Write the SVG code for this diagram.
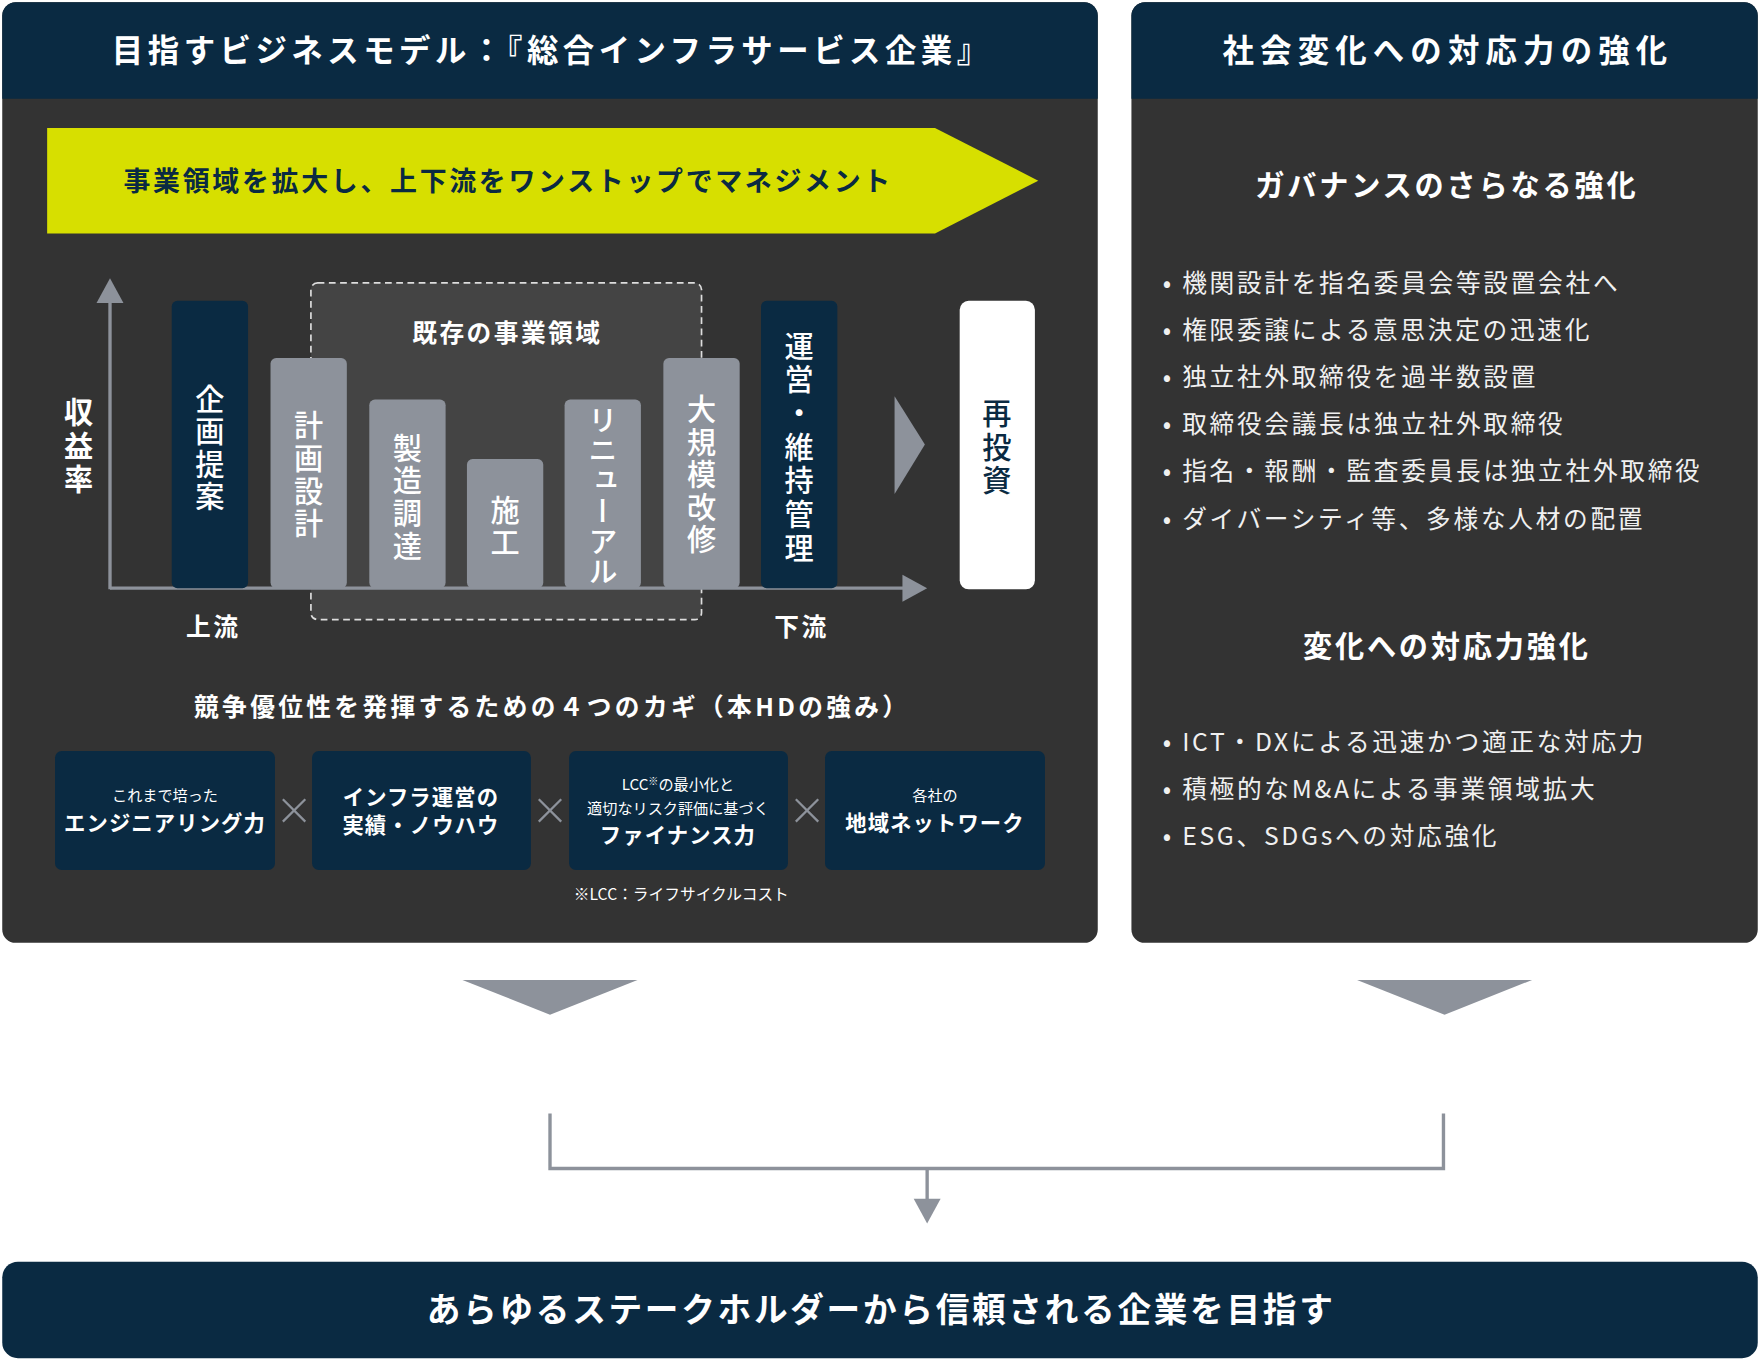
<svg xmlns="http://www.w3.org/2000/svg" width="1760" height="1360" viewBox="0 0 1760 1360">
<defs>
<style>
text{font-family:"Noto Sans CJK JP","Noto Sans",sans-serif;}
.navy{fill:#0a2a42}
.panel{fill:#333333}
.gray{fill:#8d929b}
.wb{fill:#fff;font-weight:700;letter-spacing:0.1em}
.vt{writing-mode:vertical-rl;text-anchor:middle;font-size:26px;font-weight:500;letter-spacing:3px}
.bl{fill:#f0f0f0;font-size:22px;letter-spacing:2.4px}
.kb{fill:#fff;font-weight:700;font-size:19px;text-anchor:middle;letter-spacing:1px}
.ks{fill:#fff;font-size:13.5px;text-anchor:middle}
.x{stroke:#8d929b;stroke-width:2}
</style>
</defs>
<rect width="1760" height="1360" fill="#fff"/>
<g transform="scale(1.12245)">
<g id="left-panel">
<rect x="2" y="2" width="976" height="838" rx="12" class="panel"/>
<path d="M14,2 H966 A12,12 0 0 1 978,14 V88 H2 V14 A12,12 0 0 1 14,2z" class="navy"/>
<text x="492" y="55" class="wb" font-size="28" text-anchor="middle" style="letter-spacing:4px">目指すビジネスモデル：『総合インフラサービス企業』</text>
</g>
<g id="right-panel">
<rect x="1008" y="2" width="558" height="838" rx="12" class="panel"/>
<path d="M1020,2 H1554 A12,12 0 0 1 1566,14 V88 H1008 V14 A12,12 0 0 1 1020,2z" class="navy"/>
<text x="1290" y="55" class="wb" font-size="28" text-anchor="middle" style="letter-spacing:5.5px">社会変化への対応力の強化</text>
</g>
<g id="banner-arrow">
<polygon points="42,114 833,114 925,161 833,208 42,208" fill="#d7df00"/>
<text x="110" y="170" font-size="24" font-weight="700" fill="#0a2a42" letter-spacing="2.4">事業領域を拡大し、上下流をワンストップでマネジメント</text>
</g>
<g id="existing-domain">
<rect x="277" y="252" width="348" height="300" rx="6" fill="#444" stroke="#ddd" stroke-width="1.5" stroke-dasharray="6 4"/>
<text x="452" y="305" class="wb" font-size="22" text-anchor="middle">既存の事業領域</text>
</g>
<g id="axes">
<line x1="98" y1="525" x2="98" y2="262" stroke="#8d929b" stroke-width="3"/>
<polygon points="86,270 98,248 110,270" class="gray"/>
<line x1="98" y1="524" x2="808" y2="524" stroke="#8d929b" stroke-width="3"/>
<polygon points="804,512 826,524 804,536" class="gray"/>
<text x="70" y="399" class="vt wb" style="font-weight:700;letter-spacing:4px">収益率</text>
<text x="190" y="567" class="wb" font-size="22" text-anchor="middle">上流</text>
<text x="714" y="567" class="wb" font-size="22" text-anchor="middle">下流</text>
</g>
<g id="bar-kikaku"><rect x="153" y="268" width="68" height="256" rx="5" class="navy"/><text x="187" y="400" class="vt" fill="#fff">企画提案</text></g>
<g id="bar-keikaku"><rect x="241" y="319" width="68" height="205" rx="5" class="gray"/><text x="275" y="424" class="vt" fill="#fff">計画設計</text></g>
<g id="bar-seizo"><rect x="329" y="356" width="68" height="168" rx="5" class="gray"/><text x="363" y="444" class="vt" fill="#fff">製造調達</text></g>
<g id="bar-seko"><rect x="416" y="409" width="68" height="115" rx="5" class="gray"/><text x="450" y="470" class="vt" fill="#fff">施工</text></g>
<g id="bar-renewal"><rect x="503" y="356" width="68" height="168" rx="5" class="gray"/><text x="537" y="442" class="vt" fill="#fff" style="letter-spacing:1px">リニューアル</text></g>
<g id="bar-daikibo"><rect x="591" y="319" width="68" height="205" rx="5" class="gray"/><text x="625" y="424" class="vt" fill="#fff">大規模改修</text></g>
<g id="bar-unei"><rect x="678" y="268" width="68" height="256" rx="5" class="navy"/><text x="712" y="400" class="vt" fill="#fff" style="letter-spacing:4px">運営・維持管理</text></g>
<g id="tri"><polygon points="797,353 824,396 797,440" class="gray"/></g>
<g id="reinvest"><rect x="855" y="268" width="67" height="257" rx="8" fill="#fff"/><text x="888" y="400" class="vt" fill="#0a2a42" style="letter-spacing:4px">再投資</text></g>
<g id="keys">
<text x="492" y="638" class="wb" font-size="22" text-anchor="middle" style="letter-spacing:3px">競争優位性を発揮するための４つのカギ（本HDの強み）</text>
<g id="key1"><rect x="49" y="669" width="196" height="106" rx="6" class="navy"/><text x="147" y="714" class="ks">これまで培った</text><text x="147" y="740" class="kb">エンジニアリング力</text></g>
<g id="key2"><rect x="278" y="669" width="195" height="106" rx="6" class="navy"/><text x="375" y="717" class="kb">インフラ運営の</text><text x="375" y="742" class="kb">実績・ノウハウ</text></g>
<g id="key3"><rect x="507" y="669" width="195" height="106" rx="6" class="navy"/><text x="604" y="704" class="ks">LCC<tspan font-size="9" dy="-5">※</tspan><tspan dy="5">の最小化と</tspan></text><text x="604" y="725" class="ks">適切なリスク評価に基づく</text><text x="604" y="751" class="kb">ファイナンス力</text></g>
<g id="key4"><rect x="735" y="669" width="196" height="106" rx="6" class="navy"/><text x="833" y="714" class="ks">各社の</text><text x="833" y="740" class="kb">地域ネットワーク</text></g>
<path d="M252,712 L272,732 M272,712 L252,732 M480,712 L500,732 M500,712 L480,732 M709,712 L729,732 M729,712 L709,732" class="x"/>
<text x="607" y="802" fill="#fff" font-size="14" text-anchor="middle">※LCC：ライフサイクルコスト</text>
</g>
<g id="governance">
<text x="1289" y="175" class="wb" font-size="26" text-anchor="middle" style="letter-spacing:2.5px">ガバナンスのさらなる強化</text>
<text class="bl"><tspan x="1036" y="260">• 機関設計を指名委員会等設置会社へ</tspan><tspan x="1036" y="302">• 権限委譲による意思決定の迅速化</tspan><tspan x="1036" y="344">• 独立社外取締役を過半数設置</tspan><tspan x="1036" y="386">• 取締役会議長は独立社外取締役</tspan><tspan x="1036" y="428">• 指名・報酬・監査委員長は独立社外取締役</tspan><tspan x="1036" y="470">• ダイバーシティ等、多様な人材の配置</tspan></text>
</g>
<g id="change">
<text x="1289" y="585" class="wb" font-size="26" text-anchor="middle" style="letter-spacing:2.5px">変化への対応力強化</text>
<text class="bl"><tspan x="1036" y="669">• ICT・DXによる迅速かつ適正な対応力</tspan><tspan x="1036" y="711">• 積極的なM&amp;Aによる事業領域拡大</tspan><tspan x="1036" y="753">• ESG、SDGsへの対応強化</tspan></text>
</g>
<g id="connectors">
<polygon points="412,873 568,873 490,904" class="gray"/>
<polygon points="1209,873 1365,873 1287,904" class="gray"/>
<path d="M490,992 V1041 H1286 V992" fill="none" stroke="#8d929b" stroke-width="3"/>
<line x1="826" y1="1041" x2="826" y2="1072" stroke="#8d929b" stroke-width="3"/>
<polygon points="814,1068 838,1068 826,1090" class="gray"/>
</g>
<g id="goal">
<rect x="2" y="1124" width="1564" height="86" rx="14" class="navy"/>
<text x="785" y="1178" class="wb" font-size="30" text-anchor="middle" style="letter-spacing:2.4px">あらゆるステークホルダーから信頼される企業を目指す</text>
</g>
</g>
</svg>
